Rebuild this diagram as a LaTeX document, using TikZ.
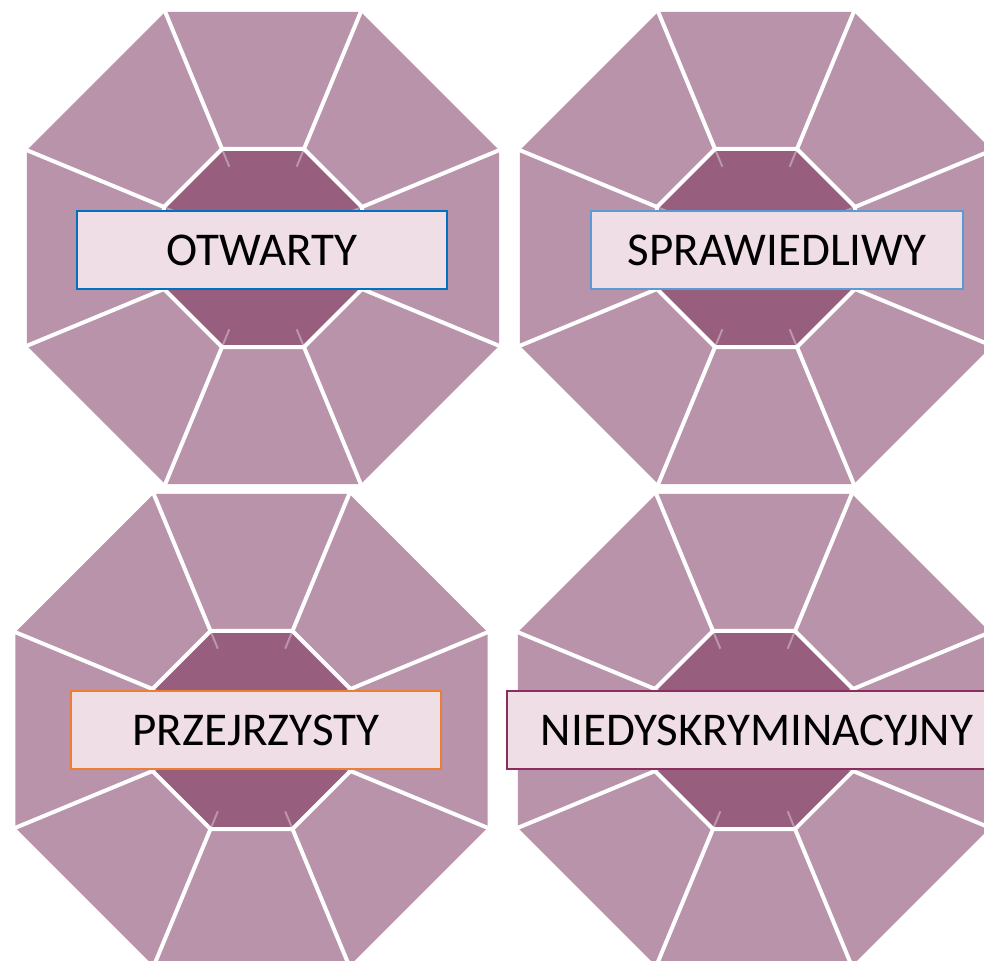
\documentclass[tikz,border=0pt]{standalone}
\usepackage{xcolor}
\usepackage{fontspec}
\setmainfont{Carlito}
\usepackage{tikz}
\usetikzlibrary{positioning}
\definecolor{gemouter}{RGB}{185,147,169}
\definecolor{geminner}{RGB}{152,94,126}
\definecolor{tagfill}{RGB}{239,222,229}
\definecolor{edgeblue}{RGB}{0,112,192}
\definecolor{edgesky}{RGB}{91,155,213}
\definecolor{edgeorange}{RGB}{237,125,49}
\definecolor{edgeplum}{RGB}{140,45,95}
\tikzset{
  facet/.style={white, line width=4pt, line join=miter},
  glint/.style={white, opacity=0.35, line width=2pt},
  tagbox/.style={rectangle, fill=tagfill, line width=1.3pt,
    minimum height=78pt, inner sep=0pt, text=black,
    font=\fontsize{47}{50}\selectfont}
}
% one octagon with its facets, centred at (#1,#2)
\newcommand\drawgem[2]{%
  \begin{scope}[shift={(#1,#2)}]
    \fill[gemouter] (22.5:255.5) \foreach \a in {67.5,112.5,...,337.5}{ -- (\a:255.5)} -- cycle;
    \fill[geminner] (22.5:107.2) \foreach \a in {67.5,112.5,...,337.5}{ -- (\a:107.2)} -- cycle;
    \foreach \a in {22.5,67.5,...,337.5}{
      \draw[glint] (\a:107.2) -- (\a:88);
      \draw[facet] (\a:107.2) -- (\a:256);
    }
    \draw[facet] (22.5:107.2) \foreach \a in {67.5,112.5,...,337.5}{ -- (\a:107.2)} -- cycle;
  \end{scope}}

\begin{document}
\begin{tikzpicture}[x=1pt, y=-1pt]
  \useasboundingbox (0,0) rectangle (984,960);
  \clip (0,0) rectangle (984,960);

  \drawgem{263}{248}
  \drawgem{756}{248}
  \drawgem{251.5}{730}
  \drawgem{754}{730}

  \node[tagbox, draw=edgeblue, minimum width=370pt] (open) at (262,250) {OTWARTY};
  \node[tagbox, draw=edgesky, minimum width=372pt] (fair) at (777,250) {SPRAWIEDLIWY};
  \node[tagbox, draw=edgeorange, minimum width=370pt] (clear) at (256,730) {PRZEJRZYSTY};
  \node[tagbox, draw=edgeplum, minimum width=500pt] (equal) at (757,730) {NIEDYSKRYMINACYJNY};
\end{tikzpicture}
\end{document}
